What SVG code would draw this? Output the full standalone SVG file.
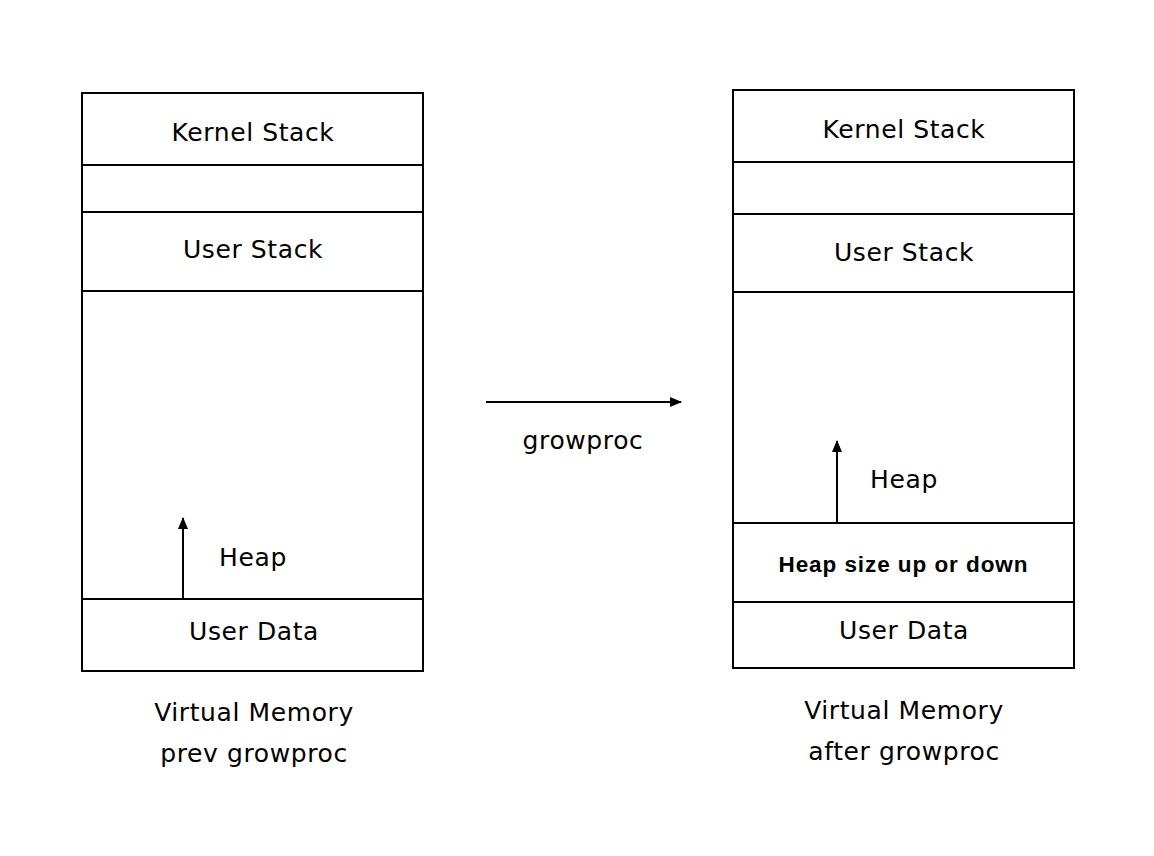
<svg xmlns="http://www.w3.org/2000/svg" width="1154" height="856" viewBox="0 0 1154 856">
<style>
.box{fill:none;stroke:#000;stroke-width:2}
.ln{stroke:#000;stroke-width:2}
.t{font-family:"DejaVu Sans",sans-serif;font-size:25px;letter-spacing:0.6px;fill:#000;text-anchor:middle}
.b{font-family:"Liberation Sans",Arial,sans-serif;font-size:22.5px;font-weight:bold;fill:#000;text-anchor:middle}
.ar{stroke:#000;stroke-width:2;fill:none;marker-end:url(#ah)}
</style>
<defs>
<marker id="ah" markerWidth="12" markerHeight="10" refX="11" refY="5" orient="auto" markerUnits="userSpaceOnUse">
<path d="M0,0 L12,5 L0,10 Z" fill="#000"/>
</marker>
</defs>
<rect width="1154" height="856" fill="#fff"/>
<g id="left-memory">
<rect class="box" x="82" y="93" width="341" height="578"/>
<line class="ln" x1="82" y1="165" x2="423" y2="165"/>
<line class="ln" x1="82" y1="212" x2="423" y2="212"/>
<line class="ln" x1="82" y1="291" x2="423" y2="291"/>
<line class="ln" x1="82" y1="599" x2="423" y2="599"/>
<text class="t" x="253" y="141">Kernel Stack</text>
<text class="t" x="253" y="258">User Stack</text>
<text class="t" x="253" y="566">Heap</text>
<text class="t" x="254" y="640">User Data</text>
<text class="t" x="254" y="721">Virtual Memory</text>
<text class="t" x="254" y="762">prev growproc</text>
</g>
<g id="right-memory">
<rect class="box" x="733" y="90" width="341" height="578"/>
<line class="ln" x1="733" y1="162" x2="1074" y2="162"/>
<line class="ln" x1="733" y1="214" x2="1074" y2="214"/>
<line class="ln" x1="733" y1="292" x2="1074" y2="292"/>
<line class="ln" x1="733" y1="523" x2="1074" y2="523"/>
<line class="ln" x1="733" y1="602" x2="1074" y2="602"/>
<text class="t" x="904" y="138">Kernel Stack</text>
<text class="t" x="904" y="261">User Stack</text>
<text class="t" x="904" y="488">Heap</text>
<text class="b" x="903" y="572" textLength="249" lengthAdjust="spacing">Heap size up or down</text>
<text class="t" x="904" y="639">User Data</text>
<text class="t" x="904" y="719">Virtual Memory</text>
<text class="t" x="904" y="760">after growproc</text>
</g>
<g id="connectors">
<line class="ar" x1="183" y1="599" x2="183" y2="518"/>
<line class="ar" x1="837" y1="523" x2="837" y2="441"/>
<line class="ar" x1="486" y1="402" x2="681" y2="402"/>
<text class="t" x="583" y="449">growproc</text>
</g>
</svg>
